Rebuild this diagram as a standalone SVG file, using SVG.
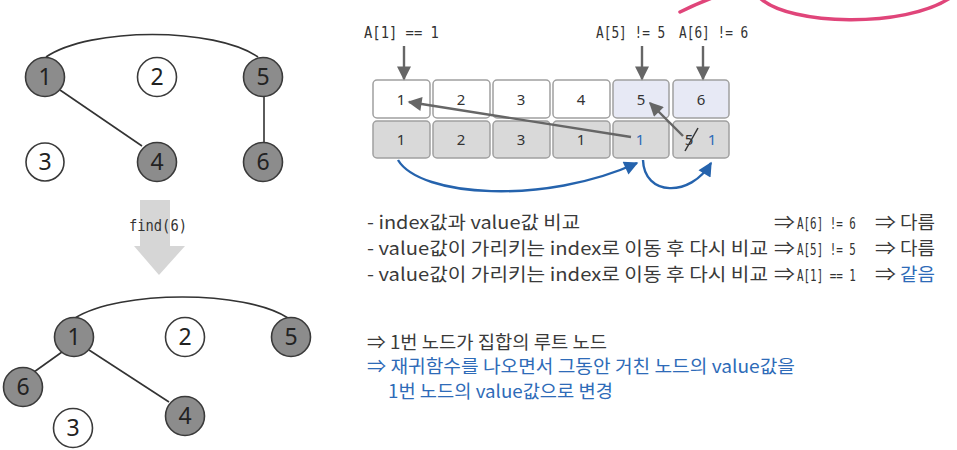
<svg xmlns="http://www.w3.org/2000/svg" width="957" height="450" viewBox="0 0 957 450">
<defs>
<style>
.nd{stroke:#3a3a3a;stroke-width:1.6}
.g{fill:#8c8c8c}
.w{fill:#ffffff}
.nt{font-family:"Noto Sans","DejaVu Sans",sans-serif;font-size:23px;fill:#222;text-anchor:middle}
.edge{fill:none;stroke:#333;stroke-width:1.6}
.cell{stroke:#a0a0a0;stroke-width:1.5}
.ct{font-family:"Noto Sans","DejaVu Sans",sans-serif;font-size:15px;fill:#333;text-anchor:middle}
.mono{font-family:"DejaVu Sans Mono","Liberation Mono",monospace;font-size:16px;fill:#333}
.kr{font-family:"Noto Sans CJK KR","Noto Sans",sans-serif;font-size:18px;fill:#3a3a3a}
.blue{fill:#2e6bb8}
.garr{stroke:#666;stroke-width:2.4;fill:none}
.barr{stroke:#2563ad;stroke-width:2.4;fill:none}
</style>
<marker id="mgs" viewBox="0 0 10 10" refX="9" refY="5" markerWidth="16" markerHeight="14" markerUnits="userSpaceOnUse" orient="auto">
<path d="M0,0 L10,5 L0,10 z" fill="#666"/>
</marker>
<marker id="mb" viewBox="0 0 10 10" refX="9" refY="5" markerWidth="16" markerHeight="14" markerUnits="userSpaceOnUse" orient="auto">
<path d="M0,0 L10,5 L0,10 z" fill="#2563ad"/>
</marker>
</defs>
<rect width="957" height="450" fill="#ffffff"/>

<!-- pink annotation -->
<g id="pink" fill="none" stroke="#e0457a" stroke-width="3.5" stroke-linecap="round">
<path d="M680,12 Q696,4 712,-2"/>
<path d="M760,-2 C790,26 905,28 950,-2"/>
</g>

<!-- top graph -->
<g id="top-edges">
<path class="edge" d="M46,57 C90,27 215,27 258,57"/>
<line class="edge" x1="60" y1="90" x2="142" y2="146"/>
<line class="edge" x1="264" y1="96" x2="264" y2="143"/>
</g>
<g id="t1"><circle class="nd g" cx="45" cy="77" r="19.5"/><text class="nt" x="45" y="85">1</text></g>
<g id="t2"><circle class="nd w" cx="157" cy="77" r="19.5"/><text class="nt" x="157" y="85">2</text></g>
<g id="t5"><circle class="nd g" cx="263" cy="77" r="19.5"/><text class="nt" x="263" y="85">5</text></g>
<g id="t3"><circle class="nd w" cx="45" cy="162" r="19"/><text class="nt" x="45" y="170">3</text></g>
<g id="t4"><circle class="nd g" cx="157" cy="162" r="19.5"/><text class="nt" x="157" y="170">4</text></g>
<g id="t6"><circle class="nd g" cx="263" cy="162" r="19.5"/><text class="nt" x="263" y="170">6</text></g>

<!-- find arrow -->
<g id="find">
<path d="M140,200 L170,200 L170,246 L185,246 L159,275 L134,246 L140,246 z" fill="#d6d6d6"/>
<text class="mono" transform="translate(129,231) scale(0.86,1)" x="0" y="0">find(6)</text>
</g>

<!-- bottom graph -->
<g id="bottom-edges">
<path class="edge" d="M75,318 C120,290 245,290 288,318"/>
<line class="edge" x1="62" y1="352" x2="34" y2="372"/>
<line class="edge" x1="89" y1="350" x2="169" y2="402"/>
</g>
<g id="b1"><circle class="nd g" cx="74" cy="337" r="19.5"/><text class="nt" x="74" y="345">1</text></g>
<g id="b2"><circle class="nd w" cx="185" cy="337" r="19.5"/><text class="nt" x="185" y="345">2</text></g>
<g id="b5"><circle class="nd g" cx="291" cy="337" r="19.5"/><text class="nt" x="291" y="345">5</text></g>
<g id="b6"><circle class="nd g" cx="23" cy="387" r="19.5"/><text class="nt" x="23" y="395">6</text></g>
<g id="b3"><circle class="nd w" cx="73" cy="428" r="19.5"/><text class="nt" x="73" y="436">3</text></g>
<g id="b4"><circle class="nd g" cx="185" cy="416" r="19.5"/><text class="nt" x="185" y="424">4</text></g>

<!-- array labels -->
<g id="labels">
<text class="mono" transform="translate(364,38) scale(0.865,1)" x="0" y="0">A[1] == 1</text>
<text class="mono" transform="translate(596,38) scale(0.8,1)" x="0" y="0">A[5] != 5</text>
<text class="mono" transform="translate(679,38) scale(0.8,1)" x="0" y="0">A[6] != 6</text>
</g>

<!-- array cells -->
<g id="idx-row">
<rect class="cell" x="373" y="80" width="57" height="38" rx="4" fill="#ffffff"/>
<rect class="cell" x="433" y="80" width="57" height="38" rx="4" fill="#ffffff"/>
<rect class="cell" x="493" y="80" width="57" height="38" rx="4" fill="#ffffff"/>
<rect class="cell" x="553" y="80" width="57" height="38" rx="4" fill="#ffffff"/>
<rect class="cell" x="613" y="80" width="56" height="38" rx="4" fill="#e7e9f5"/>
<rect class="cell" x="673" y="80" width="56" height="38" rx="4" fill="#e7e9f5"/>
<text class="ct" x="401" y="105">1</text>
<text class="ct" x="461" y="105">2</text>
<text class="ct" x="521" y="105">3</text>
<text class="ct" x="581" y="105">4</text>
<text class="ct" x="641" y="105">5</text>
<text class="ct" x="701" y="105">6</text>
</g>
<g id="val-row">
<rect class="cell" x="373" y="121" width="57" height="37" rx="4" fill="#d9d9d9"/>
<rect class="cell" x="433" y="121" width="57" height="37" rx="4" fill="#d9d9d9"/>
<rect class="cell" x="493" y="121" width="57" height="37" rx="4" fill="#d9d9d9"/>
<rect class="cell" x="553" y="121" width="57" height="37" rx="4" fill="#d9d9d9"/>
<rect class="cell" x="613" y="121" width="56" height="37" rx="4" fill="#d9d9d9"/>
<rect class="cell" x="673" y="121" width="56" height="37" rx="4" fill="#d9d9d9"/>
<text class="ct" x="401" y="145">1</text>
<text class="ct" x="461" y="145">2</text>
<text class="ct" x="521" y="145">3</text>
<text class="ct" x="581" y="145">1</text>
<text class="ct blue" x="640" y="145">1</text>
<text class="ct" x="689" y="145">5</text>
<text class="ct blue" x="712" y="145">1</text>
</g>

<!-- connectors -->
<g id="connectors">
<line class="garr" x1="404" y1="46" x2="404" y2="79" marker-end="url(#mgs)"/>
<line class="garr" x1="642" y1="46" x2="642" y2="79" marker-end="url(#mgs)"/>
<line class="garr" x1="703" y1="46" x2="703" y2="79" marker-end="url(#mgs)"/>
<line class="garr" x1="631" y1="137" x2="409" y2="102" marker-end="url(#mgs)"/>
<line class="garr" x1="683" y1="136" x2="650" y2="103" marker-end="url(#mgs)"/>
<line x1="685" y1="151" x2="698" y2="128" stroke="#333" stroke-width="1.5"/>
<path class="barr" d="M398,160 C420,197 545,205 637,163" marker-end="url(#mb)"/>
<path class="barr" d="M643,160 C644,196 690,198 711,163" marker-end="url(#mb)"/>
</g>

<!-- explanation text -->
<g id="explain">
<text class="kr" x="367" y="229" textLength="213" lengthAdjust="spacingAndGlyphs">- index값과 value값 비교</text>
<text class="kr" x="367" y="255" textLength="401" lengthAdjust="spacingAndGlyphs">- value값이 가리키는 index로 이동 후 다시 비교</text>
<text class="kr" x="367" y="281" textLength="401" lengthAdjust="spacingAndGlyphs">- value값이 가리키는 index로 이동 후 다시 비교</text>
<text class="kr" x="774" y="229" textLength="21" lengthAdjust="spacingAndGlyphs">⇒</text>
<text class="kr" x="774" y="255" textLength="21" lengthAdjust="spacingAndGlyphs">⇒</text>
<text class="kr" x="774" y="281" textLength="21" lengthAdjust="spacingAndGlyphs">⇒</text>
<text class="mono" transform="translate(797,229) scale(0.68,1)" x="0" y="0">A[6] != 6</text>
<text class="mono" transform="translate(797,255) scale(0.68,1)" x="0" y="0">A[5] != 5</text>
<text class="mono" transform="translate(797,281) scale(0.68,1)" x="0" y="0">A[1] == 1</text>
<text class="kr" x="875" y="229" textLength="21" lengthAdjust="spacingAndGlyphs">⇒</text>
<text class="kr" x="875" y="255" textLength="21" lengthAdjust="spacingAndGlyphs">⇒</text>
<text class="kr" x="875" y="281" textLength="21" lengthAdjust="spacingAndGlyphs">⇒</text>
<text class="kr" x="900" y="229" textLength="35" lengthAdjust="spacingAndGlyphs">다름</text>
<text class="kr" x="900" y="255" textLength="35" lengthAdjust="spacingAndGlyphs">다름</text>
<text class="kr blue" x="900" y="281" textLength="35" lengthAdjust="spacingAndGlyphs">같음</text>
</g>
<g id="conclusion">
<text class="kr" x="367" y="349" textLength="240" lengthAdjust="spacingAndGlyphs">⇒ 1번 노드가 집합의 루트 노드</text>
<text class="kr blue" x="367" y="373" textLength="428" lengthAdjust="spacingAndGlyphs">⇒ 재귀함수를 나오면서 그동안 거친 노드의 value값을</text>
<text class="kr blue" x="388" y="398" font-size="17" textLength="225" lengthAdjust="spacingAndGlyphs">1번 노드의 value값으로 변경</text>
</g>
</svg>
